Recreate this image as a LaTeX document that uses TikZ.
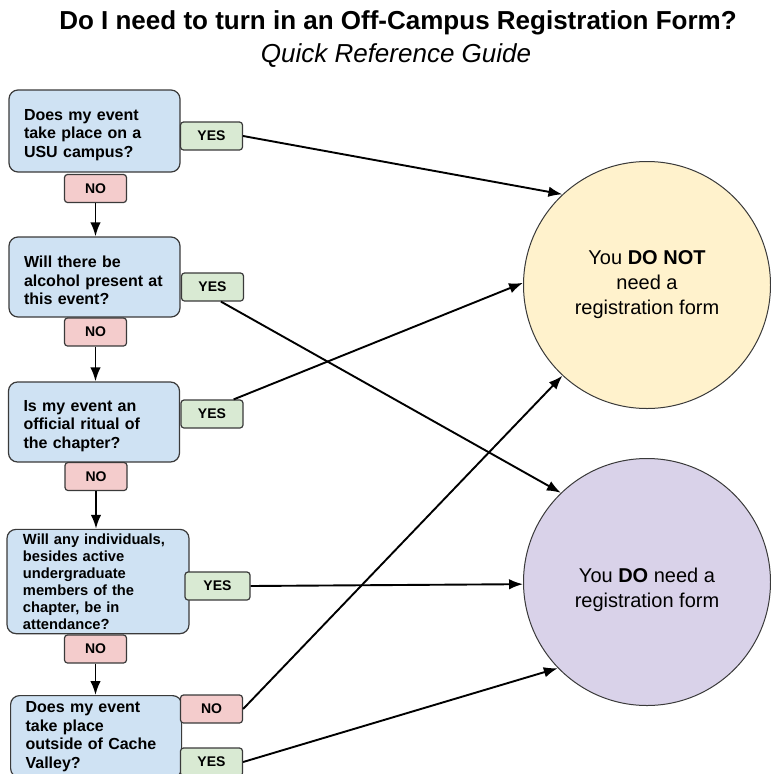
\documentclass[tikz,border=0pt]{standalone}
\usepackage{fontspec}
\setmainfont{Liberation Sans}
\usetikzlibrary{shapes, calc, arrows.meta}

\definecolor{askblue}{HTML}{CFE2F3}
\definecolor{yesgreen}{HTML}{D9EAD3}
\definecolor{nored}{HTML}{F4CCCC}
\definecolor{notyellow}{HTML}{FFF2CC}
\definecolor{dopurple}{HTML}{D9D2E9}
\definecolor{rim}{HTML}{3A3A3A}

\tikzset{
	question/.style={draw=rim, line width=1.2pt, fill=askblue, rounded corners=9pt,
		align=left, text width=141pt, inner xsep=15pt,
		font=\bfseries\fontsize{16}{18.5}\selectfont},
	answerbtn/.style={draw=rim, line width=1.2pt, rounded corners=3pt,
		minimum width=62pt, minimum height=28pt, inner sep=0pt,
		font=\bfseries\fontsize{14}{16}\selectfont},
	yesbtn/.style={answerbtn, fill=yesgreen},
	nobtn/.style={answerbtn, fill=nored},
	outcome/.style={circle, draw=rim, line width=1pt, minimum size=247pt,
		inner sep=0pt, align=center, font=\fontsize{20}{25}\selectfont},
	link/.style={-{Latex[length=14pt,width=10.5pt]}, line width=1.9pt}
}

\begin{document}
\begin{tikzpicture}[x=1pt, y=-1pt]
	\useasboundingbox (0,0) rectangle (771,774);

	\node (title) at (398,23)
		{\bfseries\fontsize{26}{30}\selectfont Do I need to turn in an Off-Campus Registration Form?};
	\node (subtitle) at (396,56)
		{\itshape\fontsize{26}{30}\selectfont Quick Reference Guide};

	% questions
	\node[question, minimum height=82pt, text height=19pt] (first) at (94.5,131)
		{Does my event\\take place on a\\USU campus?};
	\node[question, minimum height=80pt, text height=19pt] (second) at (94.5,277)
		{Will there be\\alcohol present at\\this event?};
	\node[question, minimum height=80pt, text height=19pt] (third) at (94,422)
		{Is my event an\\official ritual of\\the chapter?};
	\node[question, text width=150pt, inner xsep=16pt, inner ysep=4.5pt,
		font=\bfseries\fontsize{14.7}{16.9}\selectfont] (fourth) at (98,581.5)
		{Will any individuals,\\besides active\\undergraduate\\members of the\\chapter, be in\\attendance?};
	\node[question, anchor=north west, inner ysep=6pt] (fifth) at (10,695)
		{Does my event\\take place\\outside of Cache\\Valley?};

	% outcomes
	\node[outcome, fill=notyellow] (notneeded) at (647,285)
		{You \textbf{DO NOT}\\need a\\registration form};
	\node[outcome, fill=dopurple, text height=12pt, text depth=12pt] (needed) at (647,582)
		{\parbox[t]{200pt}{\centering You \textbf{DO} need a\\registration form}};

	% yes / no tags
	\node[yesbtn] (yesfirst)  at (211.5,136) {YES};
	\node[nobtn]  (nofirst)   at (95.5,188.5) {NO};
	\node[yesbtn] (yessecond) at (212.5,287) {YES};
	\node[nobtn]  (nosecond)  at (95.5,332) {NO};
	\node[yesbtn] (yesthird)  at (212,414) {YES};
	\node[nobtn]  (nothird)   at (96,476.5) {NO};
	\node[yesbtn, minimum width=65pt] (yesfourth) at (217.5,586) {YES};
	\node[nobtn]  (nofourth)  at (95.5,649) {NO};
	\node[nobtn]  (nofifth)   at (211.5,709) {NO};
	\node[yesbtn] (yesfifth)  at (211.5,762) {YES};

	% down the chain
	\draw[link] (nofirst) -- (nofirst |- second.north);
	\draw[link] (nosecond) -- (nosecond |- third.north);
	\draw[link] (nothird) -- (nothird |- fourth.north);
	\draw[link] (nofourth) -- (nofourth |- fifth.north);

	% to the outcomes
	\draw[link] (yesfirst.east) -- (notneeded.133);
	\draw[link] (yessecond.-60) -- (needed.134);
	\draw[link] (yesthird.34) -- (notneeded.179);
	\draw[link] (yesfourth.east) -- (needed.181);
	\draw[link] (nofifth.east) -- (notneeded.227);
	\draw[link] (yesfifth.east) -- (needed.224);
\end{tikzpicture}
\end{document}
